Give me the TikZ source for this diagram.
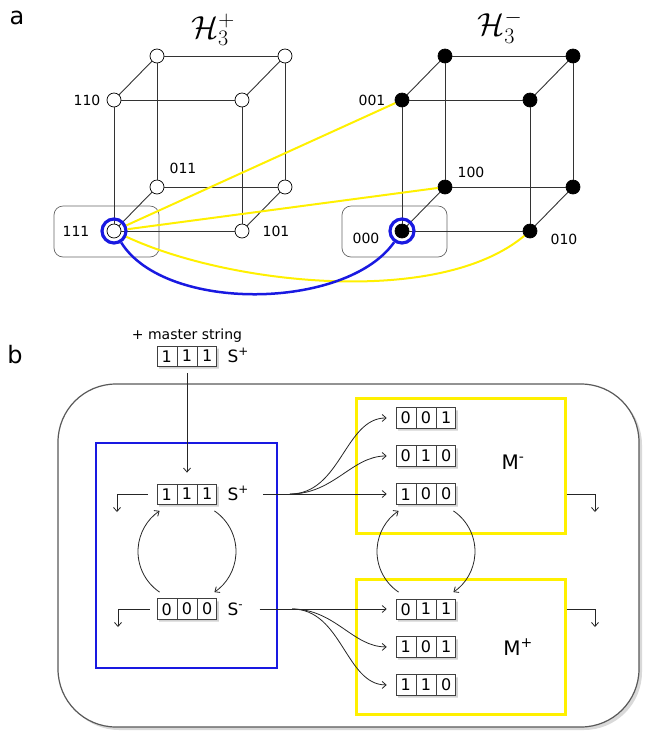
\documentclass[tikz,border=0pt]{standalone}
\usepackage{graphicx}
\usepackage{fontspec}
\setmainfont{DejaVu Sans}
\usetikzlibrary{arrows.meta}
\usetikzlibrary{calc}
\usetikzlibrary{positioning}
\usetikzlibrary{shapes.multipart,shadows}

\definecolor{hyellow}{RGB}{255,240,0}
\definecolor{hblue}{RGB}{25,25,225}
\newcommand{\bitstr}[3]{#1\nodepart{two}#2\nodepart{three}#3}
\newcommand{\hcube}[1]{\scalebox{1.28}{$\mathcal{H}_3^{#1}$}}

\begin{document}
\begin{tikzpicture}[x=1pt,y=-1pt,>={Straight Barb[length=4pt,width=7pt]},line width=0.8pt]
  \tikzstyle{vert}=[draw, circle, on grid, inner sep=0pt, minimum size=14pt, fill=white, line width=0.7pt]
  \tikzstyle{vertb}=[vert, fill=black]
  \tikzstyle{lbl}=[on grid, inner sep=0pt, font=\fontsize{14}{16}\selectfont]
  \tikzstyle{cubeedge}=[draw=black!80, line width=0.9pt]
  \tikzstyle{ring}=[draw=hblue, circle, inner sep=0pt, minimum size=24pt, line width=3.2pt]
  \tikzstyle{selbox}=[draw=black!60, line width=0.7pt, rounded corners=9pt]
  \tikzstyle{yel}=[draw=hyellow, line width=2pt]
  \tikzstyle{bitbox}=[rectangle split, rectangle split horizontal, rectangle split parts=3, draw=black!75, fill=white, line width=0.8pt, inner xsep=4.6pt, inner ysep=4pt, text height=12pt, text depth=0pt, font=\fontsize{16}{19}\selectfont, drop shadow={opacity=0.35, shadow xshift=2pt, shadow yshift=-2.5pt}]
  \tikzstyle{slbl}=[inner sep=1pt, text height=12pt, text depth=0pt, font=\fontsize{17}{20}\selectfont]
  \tikzstyle{mlbl}=[inner sep=1pt, font=\fontsize{20}{24}\selectfont]
  \tikzstyle{mbox}=[draw=hyellow, line width=3pt, minimum width=209pt, minimum height=135pt, inner sep=0pt]
  \tikzstyle{outer}=[draw=black!65, line width=1.2pt, rounded corners=58pt, fill=white, drop shadow={opacity=0.3, shadow xshift=3pt, shadow yshift=-3pt}]
  \tikzstyle{flow}=[->, black!85, line width=0.8pt]
  \tikzstyle{ttl}=[inner sep=1pt, font=\fontsize{24}{28}\selectfont]
  \useasboundingbox (0,0) rectangle (645,732);

  % panel a
  \node[font=\fontsize{24}{28}\selectfont] (pa) at (17,18) {a};
  \draw[selbox] (54,206) rectangle (159,257);
  \draw[selbox] (342,206) rectangle (447,257);

  \node[vert] (Pfbl) at (114,231) {};
  \node[vert] (Pfbr) [right=128pt of Pfbl] {};
  \node[vert] (Pftl) [above=131pt of Pfbl] {};
  \node[vert] (Pftr) [above=131pt of Pfbr] {};
  \node[vert] (Pbbl) [above right=44pt and 43pt of Pfbl] {};
  \node[vert] (Pbbr) [right=128pt of Pbbl] {};
  \node[vert] (Pbtl) [above=131pt of Pbbl] {};
  \node[vert] (Pbtr) [above=131pt of Pbbr] {};
  \path[cubeedge]
    (Pfbl) edge (Pfbr) (Pftl) edge (Pftr) (Pbbl) edge (Pbbr) (Pbtl) edge (Pbtr)
    (Pfbl) edge (Pftl) (Pfbr) edge (Pftr) (Pbbl) edge (Pbtl) (Pbbr) edge (Pbtr)
    (Pfbl) edge (Pbbl) (Pfbr) edge (Pbbr) (Pftl) edge (Pbtl) (Pftr) edge (Pbtr);
  \node[lbl] (l110) [left=27pt of Pftl] {110};
  \node[lbl] (l011) [above right=19pt and 26pt of Pbbl] {011};
  \node[lbl] (l111) [left=38pt of Pfbl] {111};
  \node[lbl] (l101) [right=34pt of Pfbr] {101};
  \node[ttl] (tP) at (213,30) {\hcube{+}};

  \node[vertb] (Mfbl) at (402,231) {};
  \node[vertb] (Mfbr) [right=128pt of Mfbl] {};
  \node[vertb] (Mftl) [above=131pt of Mfbl] {};
  \node[vertb] (Mftr) [above=131pt of Mfbr] {};
  \node[vertb] (Mbbl) [above right=44pt and 43pt of Mfbl] {};
  \node[vertb] (Mbbr) [right=128pt of Mbbl] {};
  \node[vertb] (Mbtl) [above=131pt of Mbbl] {};
  \node[vertb] (Mbtr) [above=131pt of Mbbr] {};
  \path[cubeedge]
    (Mfbl) edge (Mfbr) (Mftl) edge (Mftr) (Mbbl) edge (Mbbr) (Mbtl) edge (Mbtr)
    (Mfbl) edge (Mftl) (Mfbr) edge (Mftr) (Mbbl) edge (Mbtl) (Mbbr) edge (Mbtr)
    (Mfbl) edge (Mbbl) (Mfbr) edge (Mbbr) (Mftl) edge (Mbtl) (Mftr) edge (Mbtr);
  \node[lbl] (l001) [left=30pt of Mftl] {001};
  \node[lbl] (l100) [above right=15pt and 26pt of Mbbl] {100};
  \node[lbl] (l000) [below left=7pt and 36pt of Mfbl] {000};
  \node[lbl] (l010) [below right=8pt and 34pt of Mfbr] {010};
  \node[ttl] (tM) at (500,27) {\hcube{-}};

  \node[ring] (R111) at (Pfbl) {};
  \node[ring] (R000) at (Mfbl) {};
  \draw[yel] (R111) -- (Mftl);
  \draw[yel] (R111) -- (Mbbl);
  \draw[yel] (R111) to[out=-25, in=-140, looseness=0.72] (Mfbr);
  \draw[hblue, line width=2.5pt] (R111) to[out=-58, in=-125, looseness=0.78] (R000);

  % panel b
  \node[font=\fontsize{24}{28}\selectfont] (pb) at (15,355) {b};
  \draw[outer] (58,384) rectangle (639,727);
  \draw[hblue, line width=1.5pt] (96,443) rectangle (277,668);
  \node[mbox] (Mminus) at (460.5,465.5) {};
  \node[mbox] (Mplus) at (460.5,647) {};

  \node[bitbox] (master) at (187,356) {\bitstr{1}{1}{1}};
  \node[lbl, on grid=false] (mtext) [above=3pt of master] {+ master string};
  \node[slbl] (lmaster) [right=9pt of master] {S\textsuperscript{+}};
  \node[bitbox] (s111) at (187,494) {\bitstr{1}{1}{1}};
  \node[slbl] (ls111) [right=9pt of s111] {S\textsuperscript{+}};
  \node[bitbox] (s000) at (187,609) {\bitstr{0}{0}{0}};
  \node[slbl] (ls000) [right=9pt of s000] {S\textsuperscript{-}};

  \node[bitbox] (b100) at (426,494) {\bitstr{1}{0}{0}};
  \node[bitbox] (b010) [above=17pt of b100] {\bitstr{0}{1}{0}};
  \node[bitbox] (b001) [above=17pt of b010] {\bitstr{0}{0}{1}};
  \node[bitbox] (b011) at (426,609) {\bitstr{0}{1}{1}};
  \node[bitbox] (b101) [below=17pt of b011] {\bitstr{1}{0}{1}};
  \node[bitbox] (b110) [below=17pt of b101] {\bitstr{1}{1}{0}};
  \node[mlbl] (lMminus) at (513,462) {M\textsuperscript{-}};
  \node[mlbl] (lMplus) at (518,647) {M\textsuperscript{+}};

  \coordinate (fanP) at (290,494);
  \coordinate (fanM) at (292,609);
  \coordinate (end111) at (117,512);
  \coordinate (end000) at (118,627);
  \coordinate (endMm) at (595,512);
  \coordinate (endMp) at (595,627);
  \coordinate (loopS) at ($(s111)!0.5!(s000)$);
  \coordinate (loopM) at ($(b100)!0.5!(b011)$);

  \draw[flow, shorten <=7pt, shorten >=11pt] (master) -- (s111);
  \draw[flow] ([xshift=-9pt]s111.west) -| (end111);
  \draw[flow] ([xshift=-7pt]s000.west) -| (end000);
  \draw[black!85] ([xshift=13pt]ls111.east) -- (fanP);
  \draw[black!85] ([xshift=15pt]ls000.east) -- (fanM);
  \draw[flow, shorten >=9pt] (fanP) -- (b100.west);
  \draw[flow, shorten >=9pt] (fanP) to[out=0, in=180] (b010.west);
  \draw[flow, shorten >=9pt] (fanP) to[out=0, in=180] (b001.west);
  \draw[flow, shorten >=9pt] (fanM) -- (b011.west);
  \draw[flow, shorten >=9pt] (fanM) to[out=0, in=180] (b101.west);
  \draw[flow, shorten >=9pt] (fanM) to[out=0, in=180] (b110.west);
  \draw[flow] (Mminus.east |- b100) -| (endMm);
  \draw[flow] (Mplus.east |- b011) -| (endMp);

  \draw[flow] ([shift={(236:49pt)}]loopS) arc[start angle=236, end angle=124, radius=49pt];
  \draw[flow] ([shift={(56:49pt)}]loopS) arc[start angle=56, end angle=-56, radius=49pt];
  \draw[flow] ([shift={(236:49pt)}]loopM) arc[start angle=236, end angle=124, radius=49pt];
  \draw[flow] ([shift={(56:49pt)}]loopM) arc[start angle=56, end angle=-56, radius=49pt];
\end{tikzpicture}
\end{document}
